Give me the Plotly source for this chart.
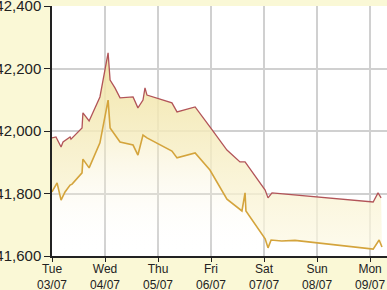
import plotly.graph_objects as go

upper_time = ["2018-07-03 00:00", "2018-07-03 01:48", "2018-07-03 04:06", "2018-07-03 05:00",
              "2018-07-03 08:12", "2018-07-03 08:36", "2018-07-03 13:36", "2018-07-03 14:00",
              "2018-07-03 16:48", "2018-07-03 21:42", "2018-07-04 01:24", "2018-07-04 02:18",
              "2018-07-04 04:30", "2018-07-04 06:48", "2018-07-04 12:42", "2018-07-04 14:54",
              "2018-07-04 17:12", "2018-07-04 18:06", "2018-07-04 19:00", "2018-07-05 06:18",
              "2018-07-05 08:36", "2018-07-05 16:48", "2018-07-05 23:30", "2018-07-06 07:12",
              "2018-07-06 13:06", "2018-07-06 15:24", "2018-07-07 00:30", "2018-07-07 01:48",
              "2018-07-07 03:36", "2018-07-09 01:24", "2018-07-09 03:36", "2018-07-09 05:00"]
upper_value = [41978, 41981, 41949, 41965, 41981, 41974, 42010, 42058,
               42032, 42109, 42250, 42163, 42138, 42106, 42109, 42074,
               42099, 42138, 42115, 42090, 42061, 42077, 42013, 41939,
               41901, 41901, 41811, 41786, 41802, 41773, 41802, 41786]

lower_time = ["2018-07-03 00:00", "2018-07-03 02:18", "2018-07-03 04:06", "2018-07-03 05:54",
              "2018-07-03 08:12", "2018-07-03 09:06", "2018-07-03 13:36", "2018-07-03 14:00",
              "2018-07-03 16:48", "2018-07-03 21:42", "2018-07-04 01:24", "2018-07-04 02:18",
              "2018-07-04 06:48", "2018-07-04 12:42", "2018-07-04 14:54", "2018-07-04 17:12",
              "2018-07-04 19:00", "2018-07-05 06:18", "2018-07-05 08:36", "2018-07-05 16:48",
              "2018-07-05 23:30", "2018-07-06 07:12", "2018-07-06 14:00", "2018-07-06 15:24",
              "2018-07-06 15:48", "2018-07-06 23:06", "2018-07-07 00:30", "2018-07-07 01:48",
              "2018-07-07 03:12", "2018-07-07 08:00", "2018-07-07 14:00", "2018-07-09 01:24",
              "2018-07-09 04:06", "2018-07-09 05:24"]
lower_value = [41805, 41834, 41779, 41805, 41827, 41830, 41866, 41910,
               41882, 41962, 42099, 42010, 41965, 41955, 41923, 41987,
               41978, 41936, 41914, 41930, 41875, 41782, 41744, 41802,
               41744, 41670, 41655, 41626, 41651, 41648, 41650, 41622,
               41651, 41629]

tick_dates = ["2018-07-03", "2018-07-04", "2018-07-05", "2018-07-06",
              "2018-07-07", "2018-07-08", "2018-07-09"]
tick_text = ["Tue<br>03/07", "Wed<br>04/07", "Thu<br>05/07", "Fri<br>06/07",
             "Sat<br>07/07", "Sun<br>08/07", "Mon<br>09/07"]
y_ticks = [41600, 41800, 42000, 42200, 42400]

fig = go.Figure()
fig.add_trace(go.Scatter(
    x=lower_time, y=lower_value, mode="lines",
    line=dict(color="rgb(212,164,60)", width=1.6),
    fill="tozeroy",
    fillgradient=dict(type="vertical", start=41600, stop=42100,
                      colorscale=[[0, "rgba(255,255,255,0)"], [1, "rgba(243,230,170,0.75)"]]),
    hoverinfo="skip", showlegend=False))
fig.add_trace(go.Scatter(
    x=upper_time, y=upper_value, mode="lines",
    line=dict(color="rgb(178,84,88)", width=1.3),
    fill="tonexty",
    fillgradient=dict(type="vertical", start=41650, stop=42250,
                      colorscale=[[0, "rgba(252,248,225,0.7)"], [1, "rgba(240,226,160,0.9)"]]),
    hoverinfo="skip", showlegend=False))

fig.update_layout(
    width=387, height=290,
    margin=dict(l=52, r=0, t=6, b=34),
    paper_bgcolor="#FAF8D6",
    plot_bgcolor="white",
    font=dict(family="Liberation Sans, Arial, sans-serif", color="#222222"),
    xaxis=dict(type="date", range=["2018-07-03 00:00", "2018-07-09 07:40"],
               tickvals=tick_dates, ticktext=tick_text,
               tickfont=dict(size=12), ticks="outside", ticklen=4, tickcolor="#222",
               ticklabelstandoff=-3,
               showline=True, linecolor="#222", linewidth=1.5,
               showgrid=True, gridcolor="#D0D0D0", gridwidth=1.5,
               automargin=False, zeroline=False, ticklabeloverflow="allow"),
    yaxis=dict(range=[41600, 42400], tickvals=y_ticks, tickformat=",d",
               tickfont=dict(size=15), ticks="outside", ticklen=6, tickcolor="#222",
               showline=True, linecolor="#222", linewidth=1.5,
               showgrid=True, gridcolor="#D0D0D0", gridwidth=1.5,
               automargin=False, zeroline=False, ticklabeloverflow="allow"),
)

fig.write_html("out.html")
